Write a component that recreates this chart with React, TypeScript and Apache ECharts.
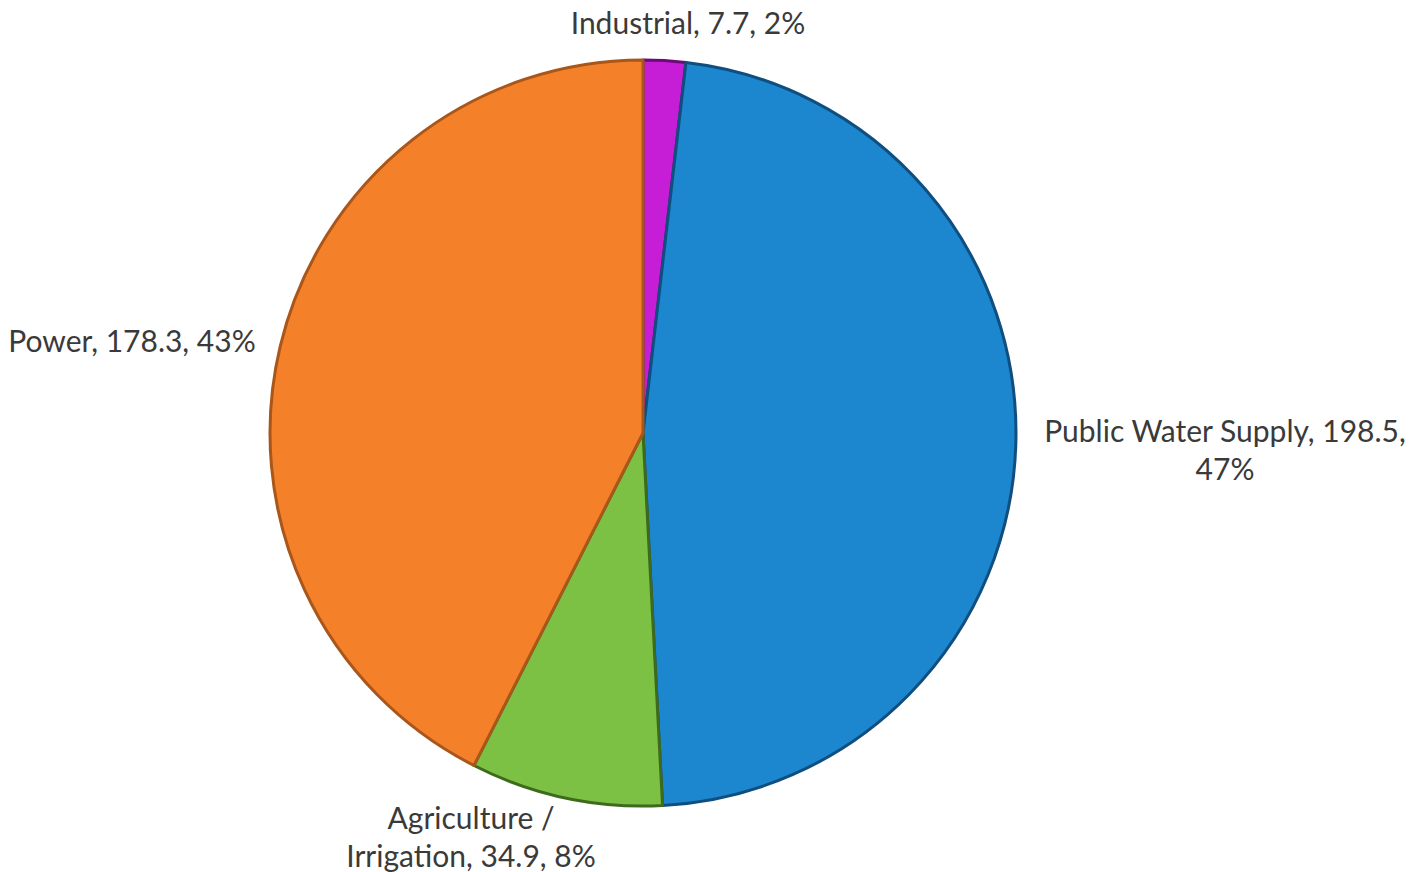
import React, { useEffect, useRef } from "react";
import * as echarts from "echarts";

const categories = ["Industrial", "Public Water Supply", "Agriculture / Irrigation", "Power"];
const values = [7.7, 198.5, 34.9, 178.3];

const colors = ["#C61ED6", "#1C86CF", "#7CC143", "#F5802A"];
const borderColors = ["#6B0B78", "#0F4E7E", "#3E6A1E", "#A9561A"];
const labelPos = [
  [688, 22],
  [1225, 449],
  [471, 836],
  [132, 340],
];

function labelText(i: number, name: string, value: number, pct: number) {
  if (i === 1) return `${name}, ${value},\n${pct}%`;
  if (i === 2) {
    const parts = name.split(" / ");
    return `${parts[0]} /\n${parts[1]}, ${value}, ${pct}%`;
  }
  return `${name}, ${value}, ${pct}%`;
}

export default function App() {
  const ref = useRef<HTMLDivElement>(null);
  useEffect(() => {
    if (!ref.current) return;
    const chart = echarts.init(ref.current, undefined, { renderer: "svg" });
    chart.setOption({
      animation: false,
      backgroundColor: "#ffffff",
      series: [
        {
          type: "pie",
          center: [643, 433],
          radius: [0, 373],
          startAngle: 90,
          clockwise: true,
          percentPrecision: 0,
          data: categories.map((c, i) => ({
            name: c,
            value: values[i],
            itemStyle: {
              color: colors[i],
              borderColor: borderColors[i],
              borderWidth: 3,
            },
          })),
          label: {
            show: true,
            position: "outside",
            color: "#3a3a3a",
            fontFamily: "Lato",
            fontSize: 30,
            lineHeight: 38,
            align: "center",
            overflow: "none",
            formatter: (p: any) => labelText(p.dataIndex, p.name, p.value, p.percent),
          },
          labelLine: { show: false },
          labelLayout: (p: any) => ({
            x: labelPos[p.dataIndex][0],
            y: labelPos[p.dataIndex][1],
            align: "center",
            verticalAlign: "middle",
          }),
          emphasis: { disabled: true },
        },
      ],
    });
    return () => chart.dispose();
  }, []);
  return (
    <div
      ref={ref}
      style={{ position: "absolute", left: 0, top: 0, width: 1414, height: 872 }}
    />
  );
}
